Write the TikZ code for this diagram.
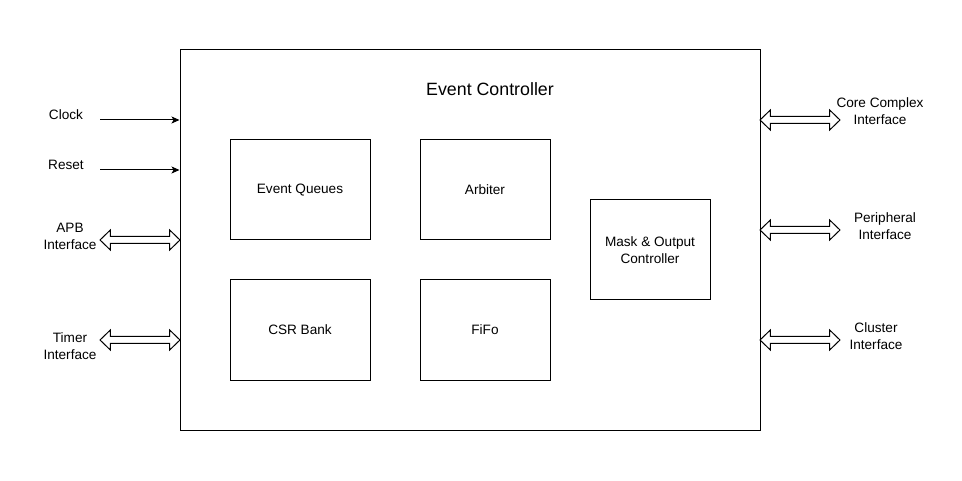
\documentclass[tikz,border=0pt]{standalone}
\usepackage{fontspec}
\setmainfont{Liberation Sans}
\usetikzlibrary{arrows.meta,shapes.arrows}
\begin{document}
\begin{tikzpicture}[x=1pt,y=-1pt,
  box/.style={draw,line width=1pt,inner sep=0pt,align=center,font=\fontsize{13.6}{17}\selectfont},
  lbl/.style={align=center,inner sep=0pt,font=\fontsize{13.6}{17}\selectfont},
  sig/.style={line width=1pt,-{Stealth[length=8pt,width=7pt,inset=2pt]}},
  flex/.style={double arrow,draw,line width=1pt,minimum height=80pt,minimum width=19pt,
    double arrow head extend=6.5pt,inner sep=3pt,shape border rotate=0,double arrow tip angle=88}]
\useasboundingbox (0,0) rectangle (962,481);
\fill[white] (0,0) rectangle (962,481);
% main box
\node[box,minimum width=580pt,minimum height=380pt] (main) at (470,240) {};
\node[lbl,font=\fontsize{17.8}{21}\selectfont] (title) at (490,89) {Event Controller};
% inner blocks
\node[box,minimum width=140pt,minimum height=100pt] (eq) at (300,190) {Event Queues};
\node[box,minimum width=130pt,minimum height=100pt] (arb) at (485,190) {Arbiter};
\node[box,minimum width=140pt,minimum height=100pt] (csr) at (300,330) {CSR Bank};
\node[box,minimum width=130pt,minimum height=100pt] (fifo) at (485,330) {FiFo};
\node[box,minimum width=120pt,minimum height=100pt] (mask) at (650,250) {Mask \& Output\\Controller};
% left labels
\node[lbl] (clk) at (66,115) {Clock};
\node[lbl] (rst) at (66,165) {Reset};
\node[lbl] (apb) at (70,236) {APB\\Interface};
\node[lbl] (tmr) at (70,346) {Timer\\Interface};
% right labels
\node[lbl] (core) at (880,111) {Core Complex\\Interface};
\node[lbl] (per) at (885,226) {Peripheral\\Interface};
\node[lbl] (clu) at (876,336) {Cluster\\Interface};
% signal arrows
\coordinate (clkS) at (100,120);
\coordinate (rstS) at (100,170);
\draw[sig] (clkS) -- (clkS -| main.west);
\draw[sig] (rstS) -- (rstS -| main.west);
% interface flex arrows
\node[flex] (apbA) at (140,240) {};
\node[flex] (tmrA) at (140,340) {};
\node[flex] (coreA) at (800,120) {};
\node[flex] (perA) at (800,230) {};
\node[flex] (cluA) at (800,340) {};
\end{tikzpicture}
\end{document}
